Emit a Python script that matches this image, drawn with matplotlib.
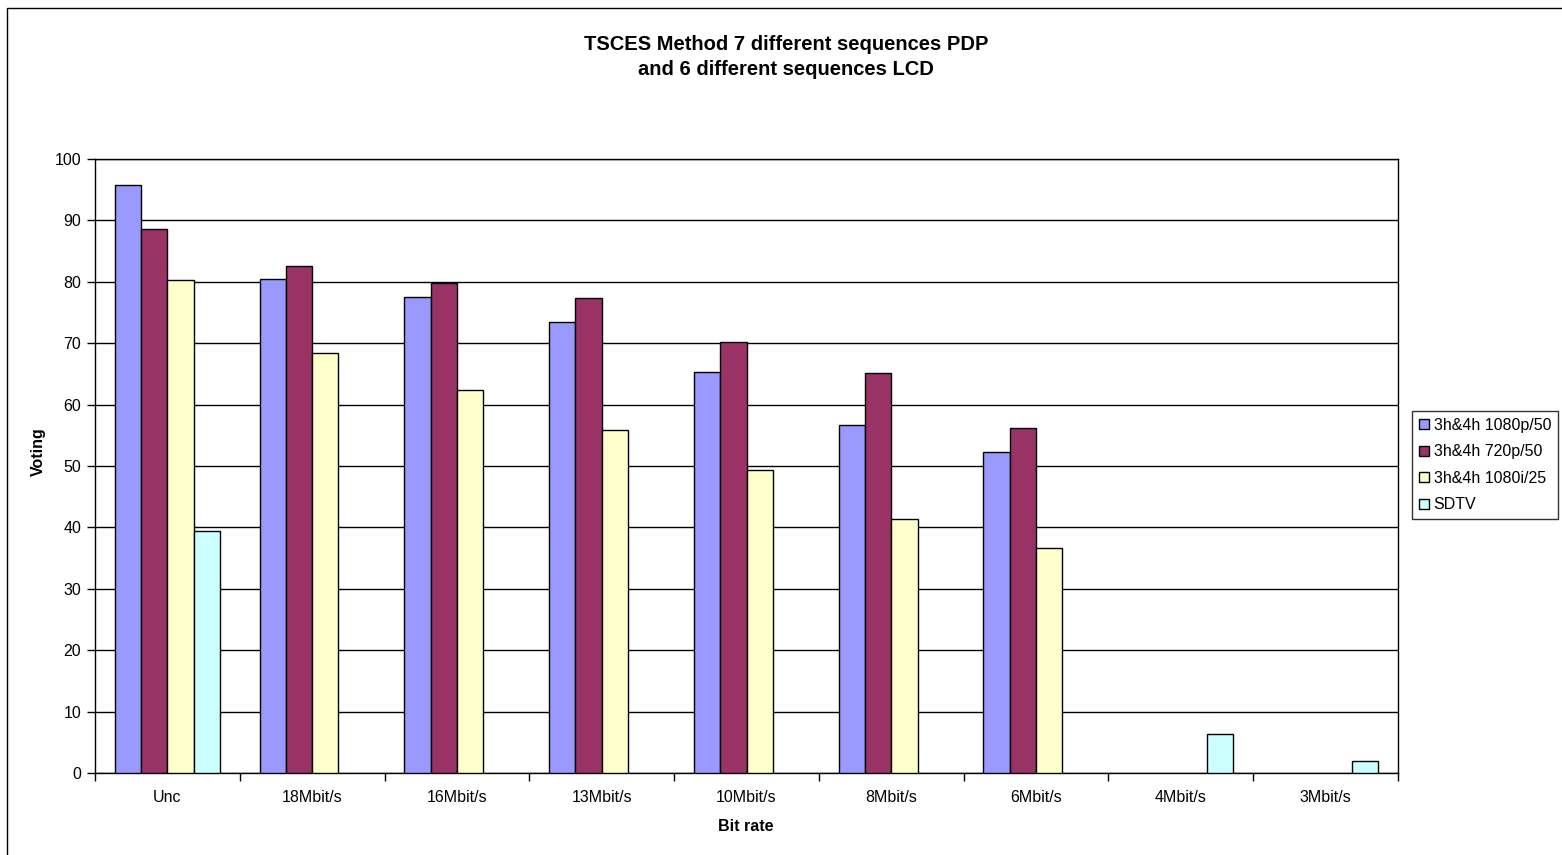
import numpy as np
import matplotlib
matplotlib.use('Agg')
from matplotlib import pyplot as plt
from matplotlib.patches import Rectangle

plt.rcParams['font.family'] = ['Liberation Sans', 'DejaVu Sans']

# 数据
categories = ['Unc', '18Mbit/s', '16Mbit/s', '13Mbit/s', '10Mbit/s', '8Mbit/s', '6Mbit/s', '4Mbit/s', '3Mbit/s']
p1080 = [95.8, 80.5, 77.5, 73.5, 65.3, 56.7, 52.3, 0, 0]
p720 = [88.6, 82.6, 79.8, 77.4, 70.2, 65.1, 56.2, 0, 0]
i1080 = [80.3, 68.4, 62.4, 55.9, 49.3, 41.4, 36.6, 0, 0]
sdtv = [39.4, 0, 0, 0, 0, 0, 0, 6.4, 2.0]
series = [p1080, p720, i1080, sdtv]
names = ['3h&4h 1080p/50', '3h&4h 720p/50', '3h&4h 1080i/25', 'SDTV']
colors = ['#9999FF', '#993366', '#FFFFCC', '#CCFFFF']

# 作图
W, H = 1562, 855
fig = plt.figure(figsize=(W / 100, H / 100), dpi=100)
fig.patches.append(Rectangle((7 / W, -0.01), 1.02, (H - 8) / H + 0.01, transform=fig.transFigure,
                             fill=False, ec='black', lw=1))
ax = fig.add_axes([95 / W, (H - 773) / H, (1398 - 95) / W, (773 - 159) / H])

x = np.arange(len(categories))
w = 1 / 5.5
for i, (s, c, nm) in enumerate(zip(series, colors, names)):
    vals = np.array(s)
    xs = x - 2 * w + w / 2 + i * w
    mask = vals > 0
    ax.bar(xs[mask], vals[mask], width=w, color=c, edgecolor='black', linewidth=1, zorder=3, label=nm)

ax.set_xlim(-0.5, len(categories) - 0.5)
ax.set_ylim(0, 100)
ax.set_yticks(np.arange(0, 101, 10))
ax.yaxis.grid(True, color='black', lw=1, zorder=0)
ax.set_xticks(np.arange(len(categories) + 1) - 0.5, minor=False)
ax.set_xticklabels([])
ax.set_xticks(x, minor=True)
ax.set_xticklabels(categories, minor=True)
ax.tick_params(axis='x', which='minor', length=0, pad=12.5, labelsize=11.5)
ax.tick_params(axis='x', which='major', length=6, direction='out', width=1)
ax.tick_params(axis='y', length=6, direction='out', width=1, labelsize=11.5, pad=4)
for sp in ax.spines.values():
    sp.set_linewidth(1)
    sp.set_color('black')

fig.text(38 / W, 1 - 452 / H, 'Voting', rotation=90, ha='center', va='center', fontsize=11.5, fontweight='bold')
fig.text(746 / W, 1 - 826 / H, 'Bit rate', ha='center', va='center', fontsize=11.5, fontweight='bold')
fig.text(786 / W, 1 - 57 / H, 'TSCES Method 7 different sequences PDP\nand 6 different sequences LCD',
         ha='center', va='center', fontsize=14.5, fontweight='bold', linespacing=1.35)

leg = ax.legend(loc='center left', bbox_to_anchor=(1412 / W, 1 - 465 / H), bbox_transform=fig.transFigure,
                fontsize=11.5, frameon=True, fancybox=False, edgecolor='black', handlelength=0.6, handleheight=0.6,
                handletextpad=0.3, borderpad=0.45, labelspacing=0.72, borderaxespad=0)
leg.get_frame().set_linewidth(1)

fig.savefig('out.png', dpi=100)
